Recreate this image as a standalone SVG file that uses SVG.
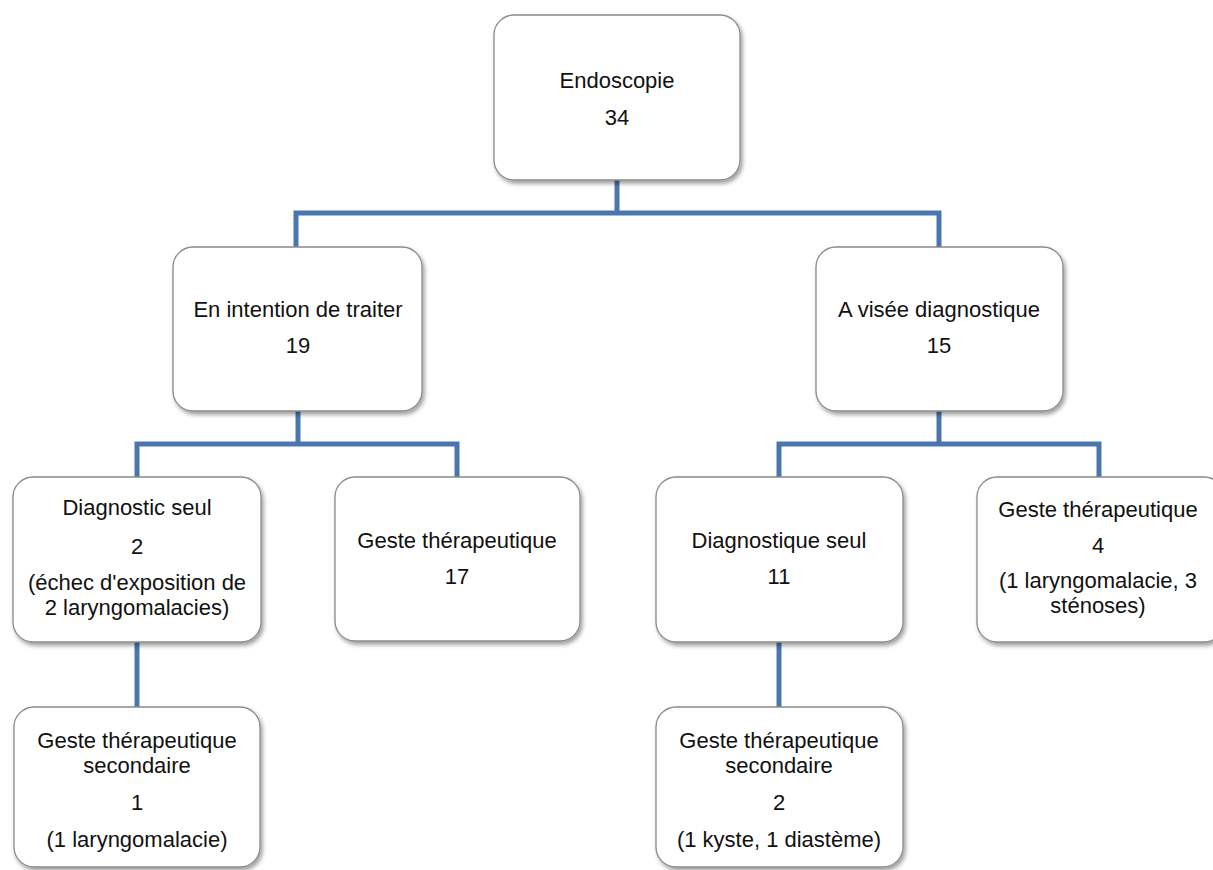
<svg xmlns="http://www.w3.org/2000/svg" width="1213" height="870" viewBox="0 0 1213 870">
  <defs>
    <filter id="sh" x="-10%" y="-10%" width="125%" height="130%">
      <feDropShadow dx="2" dy="3" stdDeviation="2.2" flood-color="#000" flood-opacity="0.38"/>
    </filter>
  </defs>
  <style>
    .box { fill: #ffffff; stroke: #8a8a8a; stroke-width: 1.3; filter: url(#sh); }
    .t { font-family: "Liberation Sans", Arial, sans-serif; font-size: 22px; fill: #111; text-anchor: middle; }
    .c { fill: none; stroke: #4a76ad; stroke-width: 5; stroke-linejoin: miter; stroke-linecap: butt; }
  </style>
  <rect width="1213" height="870" fill="#ffffff"/>
  <g id="connectors">
    <path class="c" d="M617,180 V213 M296,247 V213 H939 V247"/>
    <path class="c" d="M298,411 V444 M137,477 V444 H457 V477"/>
    <path class="c" d="M939,411 V444 M779,477 V444 H1099 V477"/>
    <path class="c" d="M137,642 V707"/>
    <path class="c" d="M779,642 V707"/>
  </g>
  <g id="n-endoscopie">
    <rect class="box" x="494" y="15" width="246" height="165" rx="20"/>
    <text class="t" x="617" y="88">Endoscopie</text>
    <text class="t" x="617" y="125">34</text>
  </g>
  <g id="n-intention">
    <rect class="box" x="173" y="247" width="249" height="164" rx="20"/>
    <text class="t" x="298" y="317">En intention de traiter</text>
    <text class="t" x="298" y="353">19</text>
  </g>
  <g id="n-visee">
    <rect class="box" x="816" y="247" width="247" height="164" rx="20"/>
    <text class="t" x="939" y="317">A visée diagnostique</text>
    <text class="t" x="939" y="353">15</text>
  </g>
  <g id="n-diag-seul">
    <rect class="box" x="13" y="477" width="248" height="165" rx="20"/>
    <text class="t" x="137" y="515">Diagnostic seul</text>
    <text class="t" x="137" y="554">2</text>
    <text class="t" x="137" y="590">(échec d'exposition de</text>
    <text class="t" x="137" y="615">2 laryngomalacies)</text>
  </g>
  <g id="n-geste17">
    <rect class="box" x="335" y="477" width="245" height="164" rx="20"/>
    <text class="t" x="457" y="548">Geste thérapeutique</text>
    <text class="t" x="457" y="584">17</text>
  </g>
  <g id="n-diagnostique-seul">
    <rect class="box" x="656" y="477" width="247" height="165" rx="20"/>
    <text class="t" x="779" y="548">Diagnostique seul</text>
    <text class="t" x="779" y="584">11</text>
  </g>
  <g id="n-geste4">
    <rect class="box" x="977" y="477" width="247" height="165" rx="20"/>
    <text class="t" x="1098" y="517">Geste thérapeutique</text>
    <text class="t" x="1098" y="553">4</text>
    <text class="t" x="1098" y="588">(1 laryngomalacie, 3</text>
    <text class="t" x="1098" y="613">sténoses)</text>
  </g>
  <g id="n-secondaire-left">
    <rect class="box" x="14" y="707" width="246" height="160" rx="20"/>
    <text class="t" x="137" y="748">Geste thérapeutique</text>
    <text class="t" x="137" y="773">secondaire</text>
    <text class="t" x="137" y="810">1</text>
    <text class="t" x="137" y="847">(1 laryngomalacie)</text>
  </g>
  <g id="n-secondaire-right">
    <rect class="box" x="656" y="707" width="247" height="160" rx="20"/>
    <text class="t" x="779" y="748">Geste thérapeutique</text>
    <text class="t" x="779" y="773">secondaire</text>
    <text class="t" x="779" y="810">2</text>
    <text class="t" x="779" y="847">(1 kyste, 1 diastème)</text>
  </g>
</svg>
